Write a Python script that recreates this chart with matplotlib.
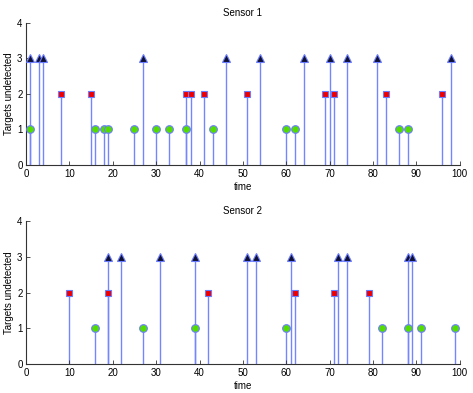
import matplotlib
matplotlib.use("Agg")
import matplotlib.pyplot as plt

plt.rcParams['font.family'] = ['Liberation Sans', 'DejaVu Sans']
plt.rcParams['font.size'] = 7

# --- data ---
s1_circle_t = [1, 16, 18, 19, 25, 30, 33, 37, 43, 60, 62, 86, 88]
s1_square_t = [8, 15, 37, 38, 41, 51, 69, 71, 83, 96]
s1_tri_t = [1, 3, 4, 27, 46, 54, 64, 70, 74, 81, 98]

s2_circle_t = [16, 27, 39, 60, 82, 88, 91, 99]
s2_square_t = [10, 19, 42, 62, 71, 79]
s2_tri_t = [19, 22, 31, 39, 51, 53, 61, 72, 74, 88, 89]

levels = {"circle": 1, "square": 2, "tri": 3}
titles = ["Sensor 1", "Sensor 2"]

STEM = "#7585ff"
EDGE = "#6a7cff"

fig = plt.figure(figsize=(4.73, 3.93), dpi=100)
ax1 = fig.add_axes([0.055, 0.580, 0.917, 0.362])
ax2 = fig.add_axes([0.055, 0.073, 0.917, 0.365])

sensors = [
    (ax1, s1_circle_t, s1_square_t, s1_tri_t),
    (ax2, s2_circle_t, s2_square_t, s2_tri_t),
]

for i, (ax, ct, st, tt) in enumerate(sensors):
    for times, key, marker, fc, ms in [
        (tt, "tri", "^", "#101030", 5.5),
        (st, "square", "s", "#ee0000", 5),
        (ct, "circle", "o", "#55dd00", 5.5),
    ]:
        y = levels[key]
        ax.vlines(times, 0, y, color=STEM, lw=1.0, zorder=1)
        ax.plot(times, [y] * len(times), ls="none", marker=marker,
                mfc=fc, mec=EDGE, mew=0.8, ms=ms, zorder=3)

    ax.set_xlim(0, 100)
    ax.set_ylim(0, 4)
    ax.set_xticks(range(0, 101, 10))
    ax.set_yticks(range(0, 5))
    ax.spines["top"].set_visible(False)
    ax.spines["right"].set_visible(False)
    for sp in ("left", "bottom"):
        ax.spines[sp].set_color("#333333")
        ax.spines[sp].set_linewidth(0.8)
    ax.tick_params(direction="in", length=3, width=0.6, color="#333333",
                   labelsize=7, pad=2.5)
    ax.set_xlabel("time", fontsize=7, labelpad=2.5)
    ax.set_ylabel("Targets undetected", fontsize=7, labelpad=2)
    ax.set_title(titles[i], fontsize=7, pad=5)

fig.savefig("out.png", dpi=100)
